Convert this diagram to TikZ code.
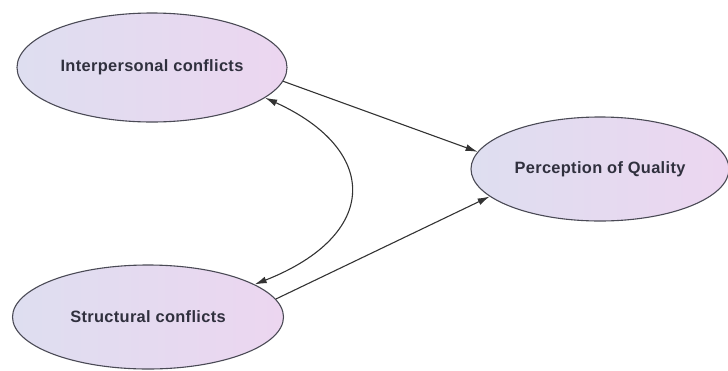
\documentclass[tikz,border=0pt]{standalone}
\usepackage{fontspec}
\setmainfont{Liberation Sans}[LetterSpace=2]
\usetikzlibrary{shapes.geometric,arrows.meta}
\definecolor{leftfill}{HTML}{DEDEF0}
\definecolor{rightfill}{HTML}{ECD6F0}
\definecolor{edgegray}{HTML}{4A4A55}
\definecolor{txtcol}{HTML}{30303E}
\begin{document}
\begin{tikzpicture}[x=1pt,y=-1pt,
  latent/.style={ellipse, draw=edgegray, line width=1.1pt, inner sep=0pt,
    left color=leftfill, right color=rightfill, text=txtcol,
    font=\fontsize{16.4}{19}\selectfont\bfseries},
  conn/.style={draw=black!80, line width=1.1pt, -{Latex[length=12pt,width=7pt]}},
  dconn/.style={draw=black!80, line width=1.1pt, {Latex[length=12pt,width=7pt]}-{Latex[length=12pt,width=7pt]}}
]
\useasboundingbox (0,0) rectangle (728,370);
\node[latent, minimum width=270pt, minimum height=109pt] (ip) at (152,67.5) {Interpersonal conflicts};
\node[latent, minimum width=258pt, minimum height=104pt] (pq) at (600,169) {Perception of Quality};
\node[latent, minimum width=271pt, minimum height=104pt] (st) at (148,317) {Structural conflicts};
\draw[conn] (ip.-6.5) -- (pq.172.6);
\draw[conn] (st.8) -- (pq.194.8);
\draw[dconn] (ip.-15.3) .. controls (380,150) and (380,235) .. (st.17);
\end{tikzpicture}
\end{document}
